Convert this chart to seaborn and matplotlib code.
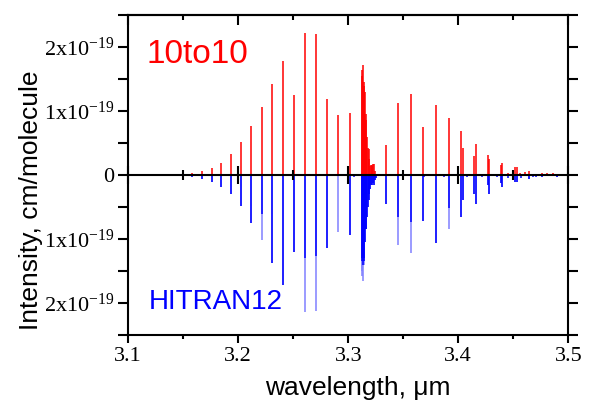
import numpy as np
import matplotlib
matplotlib.use('Agg')
import matplotlib.pyplot as plt
from matplotlib.ticker import MultipleLocator
import seaborn as sns

# stick spectra, wavelength in um, intensity in 1e-19 cm/molecule
# --- 10to10 ---
p_wl = [3.1579, 3.1670, 3.1758, 3.1843, 3.1934, 3.2025, 3.2118, 3.2213,
        3.2306, 3.2404, 3.2506, 3.2604, 3.2704, 3.2806, 3.2909, 3.3015]
p_10to10 = [0.027, 0.063, 0.105, 0.194, 0.326, 0.515, 0.76, 1.066,
            1.428, 1.78, 1.244, 2.22, 2.205, 1.186, 0.93, 0.965]

q_wl = [3.3120, 3.3127, 3.3134, 3.3140, 3.3145, 3.3152, 3.3158, 3.3164,
        3.3170, 3.3176, 3.3184, 3.3191, 3.3197, 3.3204, 3.3211, 3.3218,
        3.3224, 3.3233, 3.3245]
q_10to10 = [1.55, 1.64, 1.72, 1.45, 1.39, 1.30, 0.95, 0.86,
            0.60, 0.42, 0.41, 0.25, 0.14, 0.16, 0.15, 0.14,
            0.17, 0.17, 0.06]

r_wl = [3.3343, 3.3455, 3.3567, 3.3679, 3.3797, 3.3913, 3.4027, 3.4040,
        3.4145, 3.4158, 3.4273, 3.4282, 3.4388, 3.4397, 3.4518, 3.4531,
        3.4645, 3.4764, 3.4895]
r_10to10 = [0.47, 1.12, 1.26, 0.75, 1.10, 0.89, 0.69, 0.42,
            0.30, 0.48, 0.32, 0.25, 0.15, 0.19, 0.12, 0.12,
            0.07, 0.035, 0.02]

weak_wl_10to10 = [3.2358, 3.2552, 3.3095, 3.3397, 3.3506, 3.3625, 3.3706,
                  3.3849, 3.3943, 3.4097, 3.4215, 3.4349, 3.4452, 3.4561,
                  3.4606, 3.4724, 3.4806, 3.4861, 3.4952]
weak_10to10 = [0.015, 0.015, 0.02, 0.015, 0.02, 0.015, 0.02,
               0.02, 0.015, 0.02, 0.015, 0.02, 0.03, 0.035,
               0.04, 0.02, 0.03, 0.025, 0.02]

# --- HITRAN12 (total height / strong component) ---
p_hitran = [0.036, 0.063, 0.105, 0.184, 0.30, 0.49, 0.745, 1.008,
            1.375, 1.717, 1.20, 2.137, 2.126, 1.145, 0.89, 0.93]
p_hitran_strong = [0.036, 0.063, 0.105, 0.184, 0.30, 0.49, 0.745, 0.61,
                   1.375, 1.717, 1.20, 1.30, 1.26, 1.145, 0.0, 0.93]

q_wl_hitran = [3.3120, 3.3127, 3.3134, 3.3140, 3.3145, 3.3152, 3.3158, 3.3164,
               3.3170, 3.3176, 3.3184, 3.3191, 3.3197, 3.3206, 3.3215, 3.3224,
               3.3233, 3.3242, 3.3252]
q_hitran = [1.50, 1.575, 1.65, 1.40, 1.34, 1.05, 0.85, 0.84,
            0.66, 0.50, 0.39, 0.30, 0.22, 0.16, 0.15, 0.12,
            0.16, 0.08, 0.05]
q_hitran_strong = [1.30, 1.35, 1.40, 1.30, 1.34, 1.05, 0.85, 0.84,
                   0.66, 0.50, 0.39, 0.30, 0.22, 0.16, 0.15, 0.12,
                   0.16, 0.08, 0.05]

r_hitran = [0.46, 1.09, 1.22, 0.72, 1.066, 0.85, 0.66, 0.39,
            0.29, 0.46, 0.16, 0.30, 0.12, 0.19, 0.115, 0.115,
            0.063, 0.035, 0.025]
r_hitran_strong = [0.46, 0.66, 0.735, 0.72, 1.066, 0.52, 0.66, 0.39,
                   0.29, 0.46, 0.16, 0.30, 0.12, 0.19, 0.115, 0.115,
                   0.063, 0.035, 0.025]

weak_wl_hitran = [3.3052, 3.3288, 3.3397, 3.3506, 3.3691, 3.3870, 3.3955,
                  3.4076, 3.4215, 3.4349, 3.4452, 3.4500, 3.4570, 3.4679,
                  3.4706, 3.4815, 3.4924]
weak_hitran = [0.03, 0.02, 0.02, 0.02, 0.03, 0.03, 0.02,
               0.03, 0.03, 0.03, 0.04, 0.05, 0.04, 0.03,
               0.03, 0.02, 0.02]

x_ticks = [3.1, 3.2, 3.3, 3.4, 3.5]
x_ticklabels = ['3.1', '3.2', '3.3', '3.4', '3.5']
y_ticks = [-2, -1, 0, 1, 2]
y_ticklabels = ['2x10$^{-19}$', '1x10$^{-19}$', '0', '1x10$^{-19}$', '2x10$^{-19}$']

sns.set_style('ticks')
plt.rcParams['font.family'] = ['Liberation Sans', 'DejaVu Sans']
plt.rcParams['mathtext.fontset'] = 'custom'
plt.rcParams['mathtext.rm'] = 'Liberation Serif'
plt.rcParams['mathtext.it'] = 'Liberation Serif:italic'
plt.rcParams['mathtext.bf'] = 'Liberation Serif:bold'

E = 1e-19
red = '#ff0000'
blue = '#0000ff'
light_blue = '#8080ff'

fig = plt.figure(figsize=(5.92, 4.01), dpi=100)
ax = fig.add_axes([0.2167, 0.1646, 0.7433, 0.798])

# HITRAN12 downward
hit_wl = np.concatenate([p_wl, q_wl_hitran, r_wl])
hit_full = np.concatenate([p_hitran, q_hitran, r_hitran]) * E
hit_strong = np.concatenate([p_hitran_strong, q_hitran_strong, r_hitran_strong]) * E
ax.vlines(hit_wl, 0, -hit_full, color=light_blue, lw=1.1)
ax.vlines(hit_wl, 0, -hit_strong, color=blue, lw=1.1)
ax.vlines(weak_wl_hitran, 0, -np.array(weak_hitran) * E, color=blue, lw=1.1)

# 10to10 upward
ten_wl = np.concatenate([p_wl, q_wl, r_wl, weak_wl_10to10])
ten_int = np.concatenate([p_10to10, q_10to10, r_10to10, weak_10to10]) * E
ax.vlines(ten_wl, 0, ten_int, color=red, lw=1.1)

ax.set_xlim(3.1, 3.5)
ax.set_ylim(-2.5 * E, 2.5 * E)
ax.set_xticks(x_ticks)
ax.set_xticklabels(x_ticklabels)
ax.xaxis.set_minor_locator(MultipleLocator(0.05))
ax.set_yticks(np.array(y_ticks) * E)
ax.set_yticklabels(y_ticklabels)
ax.yaxis.set_minor_locator(MultipleLocator(0.5 * E))

ax.tick_params(axis='x', which='both', direction='out', bottom=True, top=False,
               width=1.5, color='k', labelsize=16, labelcolor='k',
               labelfontfamily='Liberation Serif', pad=3)
ax.tick_params(axis='x', which='major', length=6)
ax.tick_params(axis='x', which='minor', length=3)
ax.tick_params(axis='y', which='both', direction='out', left=True, right=True,
               width=1.5, length=7, color='k', labelsize=16, labelcolor='k',
               labelfontfamily='Liberation Serif', pad=3)
for s in ax.spines.values():
    s.set_linewidth(1.5)
    s.set_color('k')

# top axis, ticks pointing in
top = ax.secondary_xaxis('top')
top.set_xticks(x_ticks)
top.xaxis.set_minor_locator(MultipleLocator(0.05))
top.tick_params(which='both', direction='in', width=1.5, color='k',
                labeltop=False, labelbottom=False)
top.tick_params(which='major', length=7)
top.tick_params(which='minor', length=3.5)
for s in top.spines.values():
    s.set_linewidth(1.5)
    s.set_color('k')

# zero line with crossing ticks
zax = ax.secondary_xaxis(0.5)
zax.set_xticks(x_ticks)
zax.xaxis.set_minor_locator(MultipleLocator(0.05))
zax.tick_params(which='both', direction='inout', width=1.5, color='k',
                labeltop=False, labelbottom=False)
zax.tick_params(which='major', length=13)
zax.tick_params(which='minor', length=6.5)
for s in zax.spines.values():
    s.set_linewidth(1.5)
    s.set_color('k')
zax.set_zorder(3)

ax.set_xlabel('wavelength, μm', fontsize=19, color='k')
ax.xaxis.set_label_coords(0.522, -0.128)
ax.set_ylabel('Intensity, cm/molecule', fontsize=19, color='k')
ax.yaxis.set_label_coords(-0.194, 0.42)

ax.text(0.0425, 0.85, '10to10', color=red, fontsize=24,
        transform=ax.transAxes, va='baseline', ha='left')
ax.text(0.047, 0.081, 'HITRAN12', color=blue, fontsize=20,
        transform=ax.transAxes, va='baseline', ha='left')

fig.savefig('out.png', dpi=100)
